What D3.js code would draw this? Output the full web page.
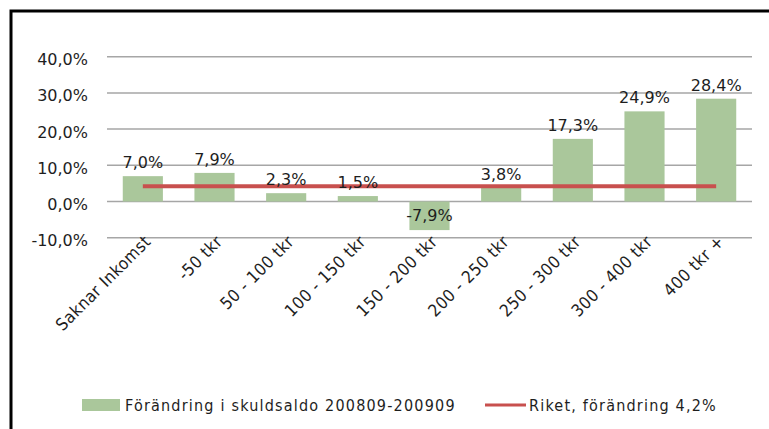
<!DOCTYPE html>
<html>
<head>
<meta charset="utf-8">
<script src="https://cdn.jsdelivr.net/npm/d3@7"></script>
<style>
	body { margin: 0; background: #fff; }
	svg { display: block; }
</style>
</head>
<body>
<div id="chart"></div>
<script>
/*
	Förändring i skuldsaldo per inkomstklass, bars + riket line.
*/

var categories = ['Saknar Inkomst', '-50 tkr', '50 - 100 tkr', '100 - 150 tkr', '150 - 200 tkr',
	'200 - 250 tkr', '250 - 300 tkr', '300 - 400 tkr', '400 tkr +'];
var forandring = [7.0, 7.9, 2.3, 1.5, -7.9, 3.8, 17.3, 24.9, 28.4];
var riket = [4.2, 4.2, 4.2, 4.2, 4.2, 4.2, 4.2, 4.2, 4.2];
var yTicks = [-10, 0, 10, 20, 30, 40];
var seriesNames = ['Förändring i skuldsaldo 200809-200909', 'Riket, förändring 4,2%'];

var width = 769;
var height = 429;

var colors = {
	'bar': '#aac79b',
	'line': '#c8504e',
	'grid': '#a6a6a6',
	'text': '#1e1e1e'
};

var plot = { left: 107, right: 752, top: 56.7, bottom: 237.7 };

var locale = d3.formatLocale({ decimal: ',', thousands: ' ', grouping: [3], currency: ['', ' kr'], minus: '-' });
var fmt = locale.format('.1f');
var pct = function(v) { return fmt(v) + '%'; };

var x = d3.scaleBand()
	.domain(categories)
	.range([plot.left, plot.right])
	.paddingInner(0.44)
	.paddingOuter(0.22);

var y = d3.scaleLinear()
	.domain([-10, 40])
	.range([plot.bottom, plot.top]);

var svg = d3.select('#chart').append('svg')
	.attr('width', width)
	.attr('height', height);

// frame: only top and left edges are visible
svg.append('path')
	.attr('d', 'M11,' + height + 'V11H' + width)
	.attr('fill', 'none')
	.attr('stroke', '#000')
	.attr('stroke-width', 3);

// gridlines
svg.append('g')
	.selectAll('line')
	.data(yTicks)
	.join('line')
	.attr('x1', plot.left)
	.attr('x2', plot.right)
	.attr('y1', function(d) { return y(d); })
	.attr('y2', function(d) { return y(d); })
	.attr('stroke', colors.grid)
	.attr('stroke-width', 1.5);

// y axis labels
var yAxis = svg.append('g')
	.attr('transform', 'translate(' + (plot.left - 19) + ',0)')
	.call(d3.axisLeft(y).tickValues(yTicks).tickFormat(pct).tickSize(0).tickPadding(0));
yAxis.select('.domain').remove();
yAxis.selectAll('text')
	.attr('dy', '0.5em')
	.style('font-family', '"DejaVu Sans", Verdana, sans-serif')
	.style('font-size', '16px')
	.attr('fill', colors.text);

// bars
svg.append('g')
	.selectAll('rect')
	.data(forandring)
	.join('rect')
	.attr('x', function(d, i) { return x(categories[i]); })
	.attr('width', x.bandwidth())
	.attr('y', function(d) { return y(Math.max(0, d)); })
	.attr('height', function(d) { return Math.abs(y(d) - y(0)); })
	.attr('fill', colors.bar);

// riket line
var line = d3.line()
	.x(function(d, i) { return x(categories[i]) + x.bandwidth() / 2; })
	.y(function(d) { return y(d); });

svg.append('path')
	.datum(riket)
	.attr('d', line)
	.attr('fill', 'none')
	.attr('stroke', colors.line)
	.attr('stroke-width', 4);

// value labels
svg.append('g')
	.selectAll('text')
	.data(forandring)
	.join('text')
	.attr('x', function(d, i) { return x(categories[i]) + x.bandwidth() / 2; })
	.attr('y', function(d) { return d < 0 ? y(d) - 9 : y(d) - 8; })
	.attr('text-anchor', 'middle')
	.style('font-family', '"DejaVu Sans", Verdana, sans-serif')
	.style('font-size', '16px')
	.attr('fill', colors.text)
	.text(pct);

// category labels, rotated
svg.append('g')
	.selectAll('text')
	.data(categories)
	.join('text')
	.attr('transform', function(d) {
		return 'translate(' + (x(d) + x.bandwidth() / 2 + 9) + ',' + (plot.bottom + 5) + ') rotate(-45)';
	})
	.attr('text-anchor', 'end')
	.style('font-family', '"DejaVu Sans Condensed", "DejaVu Sans", sans-serif')
	.style('font-size', '17px')
	.style('letter-spacing', '0.5px')
	.attr('fill', colors.text)
	.text(function(d) { return d; });

// legend
var legend = svg.append('g')
	.style('font-family', '"DejaVu Sans Condensed", "DejaVu Sans", sans-serif')
	.style('font-size', '16px')
	.style('letter-spacing', '1.2px')
	.attr('fill', colors.text);

legend.append('rect')
	.attr('x', 82)
	.attr('y', 399)
	.attr('width', 38)
	.attr('height', 12)
	.attr('fill', colors.bar);

legend.append('text')
	.attr('x', 125)
	.attr('y', 411)
	.text(seriesNames[0]);

legend.append('line')
	.attr('x1', 485)
	.attr('x2', 526)
	.attr('y1', 405)
	.attr('y2', 405)
	.attr('stroke', colors.line)
	.attr('stroke-width', 3);

legend.append('text')
	.attr('x', 529)
	.attr('y', 411)
	.text(seriesNames[1]);
</script>
</body>
</html>
